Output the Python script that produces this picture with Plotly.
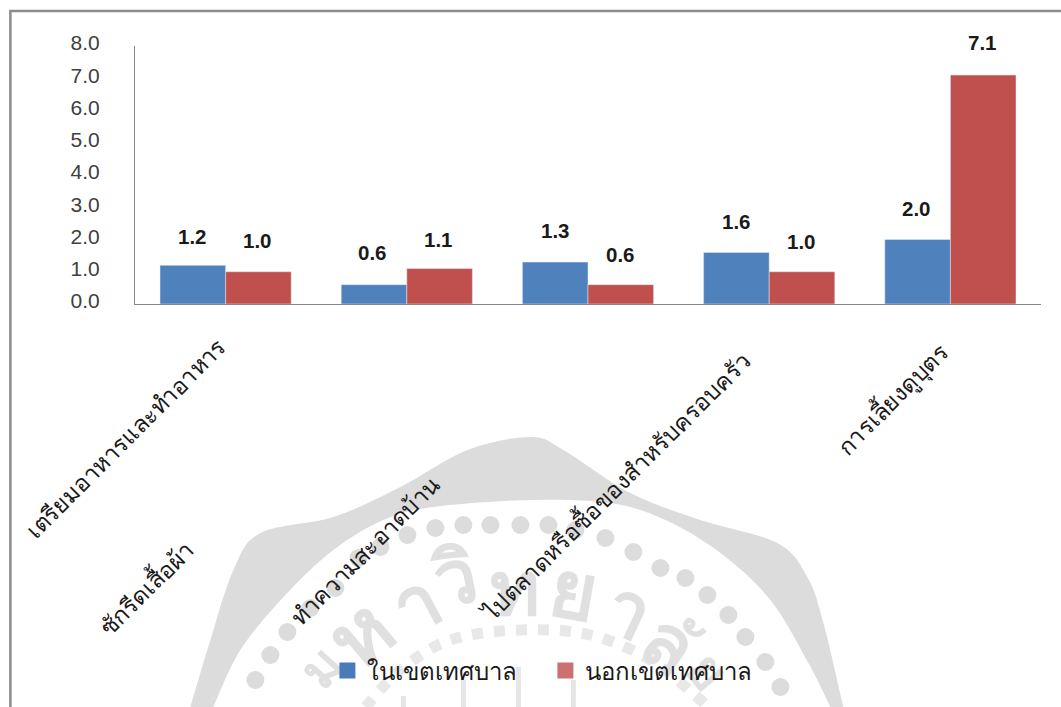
import plotly.graph_objects as go

categories = ["เตรียมอาหารและทำอาหาร", "ซักรีดเสื้อผ้า", "ทำความสะอาดบ้าน",
              "ไปตลาดหรือซื้อของสำหรับครอบครัว", "การเลี้ยงดูบุตร"]
series_in = [1.2, 0.6, 1.3, 1.6, 2.0]
series_out = [1.0, 1.1, 0.6, 1.0, 7.1]
name_in = "ในเขตเทศบาล"
name_out = "นอกเขตเทศบาล"
y_ticks = [0, 1, 2, 3, 4, 5, 6, 7, 8]

BLUE, RED = "#4F81BD", "#C0504D"
INK = "#1a1a1a"
WM = "#dcdcdc"

# layout geometry, in page pixels
L, R, T, B = 134.6, 1040.6, 46, 304
W, H = 1061, 707


def px(x):
    return (x - L) / (R - L)


def py(y):
    return (B - y) / (B - T)


# per-label placement of the printed value (x shift from category, page y)
label_in_dx = [-33, -34, -33, -33, -34]
label_in_y = [236, 252, 231, 221, 208]
label_out_dx = [32, 32, 32, 32, 32]
label_out_y = [240, 239, 254, 241, 43]
# centre of each rotated category label in page pixels
cat_label_x = [125, 146, 365, 615, 892]
cat_label_y = [438, 588, 550, 487, 399]

# watermark outline (page pixels)
wm_outer = [(190, 707), (210, 640), (233, 570), (260, 533), (333, 517), (400, 487), (467, 450),
            (530, 437), (563, 450), (630, 493), (700, 520), (777, 543), (807, 577), (823, 623), (843, 707)]
wm_inner = [(830, 707), (808, 663), (770, 600), (720, 553), (665, 520), (610, 503), (530, 500),
            (433, 507), (383, 520), (333, 550), (285, 595), (240, 650), (213, 707)]
wm_dots = [(255, 680), (270, 655), (287, 632), (310, 608), (335, 588), (358, 558), (380, 547), (407, 535), (435, 528),
           (463, 525), (490, 525), (520, 525), (548, 525), (575, 530), (605, 538), (633, 552), (660, 568),
           (685, 578), (707, 595), (728, 615), (745, 637), (765, 662), (780, 687)]
wm_letters = [("ม", 322, 668, -48, 52), ("ห", 362, 636, -40, 84), ("า", 417, 605, -28, 76), ("วิ", 456, 580, -12, 76),
              ("ท", 515, 590, 0, 76), ("ย", 573, 593, 10, 80), ("า", 627, 612, 25, 76), ("ล", 668, 645, 35, 76),
              ("ั", 708, 628, 40, 60), ("ย", 706, 672, 50, 52)]
wm_ring = [(365, 707), (400, 670), (450, 640), (520, 630), (590, 635), (650, 660), (700, 700), (705, 707)]
wm_posts = [(403, 696, 707), (463, 680, 707), (518, 667, 707), (573, 680, 707)]


def path(points):
    return "M" + " L".join(f"{px(x):.5f},{py(y):.5f}" for x, y in points)


def smooth(points):
    """Smooth outline through the given page-pixel points."""
    pts = [(px(x), py(y)) for x, y in points]
    d = f"M{pts[0][0]:.5f},{pts[0][1]:.5f}"
    for i in range(1, len(pts)):
        p0 = pts[i - 1]
        p1 = pts[i]
        pm = pts[i - 2] if i > 1 else p0
        pn = pts[i + 1] if i + 1 < len(pts) else p1
        c1 = (p0[0] + (p1[0] - pm[0]) / 6, p0[1] + (p1[1] - pm[1]) / 6)
        c2 = (p1[0] - (pn[0] - p0[0]) / 6, p1[1] - (pn[1] - p0[1]) / 6)
        d += f" C{c1[0]:.5f},{c1[1]:.5f} {c2[0]:.5f},{c2[1]:.5f} {p1[0]:.5f},{p1[1]:.5f}"
    return d


NOFILL = "rgba(0,0,0,0)"
shapes = []
band = smooth(wm_outer) + " L" + smooth(wm_inner)[1:] + " Z"
shapes.append(dict(type="path", xref="paper", yref="paper", path=band, fillcolor=WM, line=dict(width=0), layer="below"))
shapes.append(dict(type="path", xref="paper", yref="paper", path=smooth(wm_ring),
                   line=dict(color="#e8e8e8", width=11, dash="dot"), fillcolor=NOFILL, layer="below"))
for x, y0, y1 in wm_posts:
    shapes.append(dict(type="path", xref="paper", yref="paper", path=path([(x, y0), (x, y1)]),
                       line=dict(color="#e6e6e6", width=5), fillcolor=NOFILL, layer="below"))
for (dx, dy) in wm_dots:
    r = 9
    shapes.append(dict(type="circle", xref="paper", yref="paper", x0=px(dx - r), x1=px(dx + r),
                       y0=py(dy + r), y1=py(dy - r), fillcolor=WM, line=dict(width=0), layer="below"))
# the watermark's letters are shape labels so they stay beneath the legend
for ch, x, y, rot, size in wm_letters:
    shapes.append(dict(type="rect", xref="paper", yref="paper", x0=px(x - 5), x1=px(x + 5), y0=py(y + 5), y1=py(y - 5),
                       fillcolor=NOFILL, line=dict(width=0), layer="below",
                       label=dict(text=f"<b>{ch}</b>", textangle=rot, textposition="middle center",
                                  xanchor="center", yanchor="middle",
                                  font=dict(family="Noto Sans, Liberation Sans", size=size, color="#e0e0e0"))))
shapes.append(dict(type="path", xref="paper", yref="paper", path=path([(10, H + 5), (10, 11), (W + 5, 11)]),
                   line=dict(color="#8c8c8c", width=2.5), fillcolor=NOFILL, layer="below"))

annotations = []
for i, c in enumerate(categories):
    annotations.append(dict(text=f"<b>{series_in[i]:.1f}</b>", x=c, xref="x", xshift=label_in_dx[i],
                            y=py(label_in_y[i]), yref="paper", yanchor="middle", showarrow=False,
                            font=dict(family="Liberation Sans", size=20.5, color=INK)))
    annotations.append(dict(text=f"<b>{series_out[i]:.1f}</b>", x=c, xref="x", xshift=label_out_dx[i],
                            y=py(label_out_y[i]), yref="paper", yanchor="middle", showarrow=False,
                            font=dict(family="Liberation Sans", size=20.5, color=INK)))
    annotations.append(dict(text=c, xref="paper", yref="paper", x=px(cat_label_x[i]), y=py(cat_label_y[i]),
                            textangle=-45, showarrow=False, xanchor="center", yanchor="middle",
                            font=dict(family="Noto Sans, DejaVu Sans", size=23.5, color=INK)))

fig = go.Figure()
fig.add_trace(go.Bar(x=categories, y=series_in, marker_color=BLUE, showlegend=False, name=name_in))
fig.add_trace(go.Bar(x=categories, y=series_out, marker_color=RED, showlegend=False, name=name_out))
fig.add_trace(go.Scatter(x=[None], y=[None], mode="markers", name=name_in,
                         marker=dict(symbol="square", size=18, color="#4a7ab8")))
fig.add_trace(go.Scatter(x=[None], y=[None], mode="markers", name=name_out,
                         marker=dict(symbol="square", size=18, color="#cd7070")))

fig.update_layout(
    width=W, height=H,
    margin=dict(l=L, r=W - R, t=T, b=H - B, pad=0),
    paper_bgcolor="white", plot_bgcolor="rgba(0,0,0,0)",
    barmode="group", bargap=0.276, bargroupgap=0,
    shapes=shapes, annotations=annotations,
    font=dict(family="Liberation Sans", color=INK),
    legend=dict(orientation="h", x=px(327), y=py(671), xanchor="left", yanchor="middle",
                bgcolor="rgba(0,0,0,0)", font=dict(family="Noto Sans, DejaVu Sans", size=24, color=INK),
                itemwidth=30, traceorder="normal", entrywidth=173, entrywidthmode="pixels"),
    xaxis=dict(showticklabels=False, ticks="", showline=True, linecolor="#868686", linewidth=1, showgrid=False,
               zeroline=False, categoryorder="array", categoryarray=categories, range=[-0.5, 4.5]),
    yaxis=dict(range=[0, 8], tickvals=y_ticks, tickformat=".1f", showline=True, linecolor="#868686", linewidth=1,
               showgrid=False, zeroline=False, ticks="", tickfont=dict(family="Liberation Sans", size=21, color="#404040"),
               ticklabelstandoff=30, ticklabelshift=-3),
)

fig.write_html("out.html", config=dict(displayModeBar=False), post_script="document.body.style.margin='0';")
